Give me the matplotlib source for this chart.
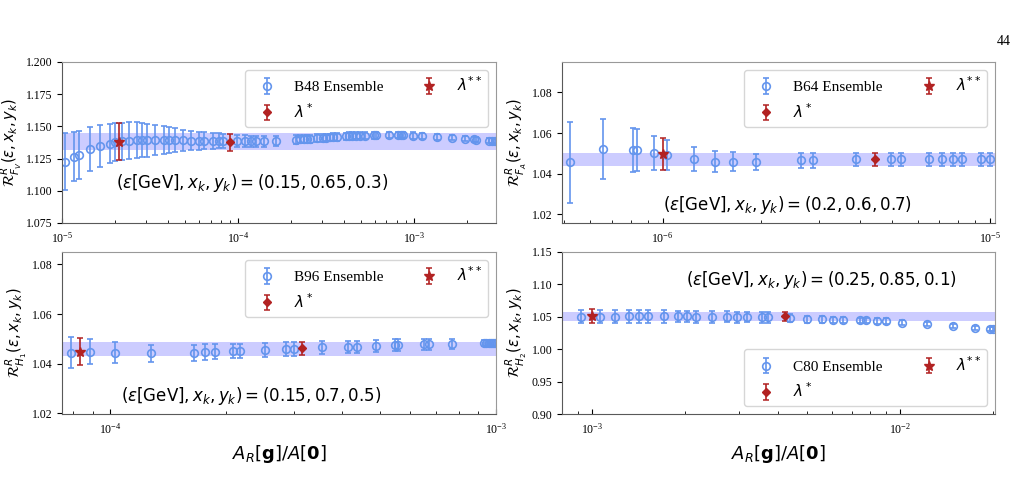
import numpy as np
import matplotlib
matplotlib.use("Agg")
from matplotlib import pyplot as plt

plt.rcParams['font.family'] = 'serif'
plt.rcParams['font.serif'] = ['Liberation Serif', 'DejaVu Serif']
plt.rcParams['mathtext.fontset'] = 'dejavusans'

# ---- B48 ensemble (F_V) ----
b48_x = [1.035e-5, 1.175e-5, 1.255e-5, 1.449e-5, 1.652e-5, 1.867e-5, 2.011e-5, 2.194e-5, 2.394e-5,
         2.670e-5, 2.851e-5, 3.044e-5, 3.395e-5, 3.786e-5, 4.043e-5, 4.374e-5, 4.878e-5, 5.416e-5,
         6.04e-5, 6.45e-5, 7.19e-5, 7.78e-5, 8.24e-5, 9.89e-5, 1.103e-4, 1.188e-4, 1.274e-4, 1.415e-4,
         1.656e-4, 2.151e-4, 2.247e-4, 2.368e-4, 2.474e-4, 2.562e-4, 2.82e-4, 3.05e-4, 3.186e-4,
         3.328e-4, 3.477e-4, 3.664e-4, 4.141e-4, 4.307e-4, 4.460e-4, 4.72e-4, 4.974e-4, 5.264e-4,
         5.923e-4, 6.134e-4, 7.21e-4, 8.11e-4, 8.47e-4, 8.66e-4, 9.91e-4, 1.115e-3, 1.358e-3,
         1.652e-3, 1.95e-3, 2.194e-3, 2.272e-3, 2.67e-3, 2.79e-3, 2.914e-3]
b48_y = [1.1227, 1.1265, 1.1278, 1.1322, 1.1348, 1.1366, 1.1376, 1.1384, 1.1389,
         1.1394, 1.1394, 1.1394, 1.1394, 1.1394, 1.1394, 1.1394, 1.1392, 1.1389,
         1.1389, 1.1389, 1.1387, 1.1387, 1.1387, 1.1384, 1.1384, 1.1384, 1.1384, 1.1384,
         1.1389, 1.1398, 1.1400, 1.1401, 1.1403, 1.1404, 1.1408, 1.1411, 1.1413,
         1.1414, 1.1416, 1.1418, 1.1422, 1.1424, 1.1425, 1.1427, 1.1428, 1.1429,
         1.1431, 1.1432, 1.1433, 1.1433, 1.1433, 1.1432, 1.1429, 1.1426, 1.1420,
         1.1413, 1.1405, 1.1400, 1.1398, 1.1389, 1.1387, 1.1386]
b48_err = [0.0219, 0.0190, 0.0188, 0.0170, 0.0160, 0.0152, 0.0148, 0.0145, 0.0143,
           0.0140, 0.0134, 0.0128, 0.0118, 0.0108, 0.0102, 0.0092, 0.0080, 0.0075,
           0.0070, 0.0066, 0.0062, 0.0058, 0.0055, 0.0048, 0.0047, 0.0045, 0.0043, 0.0041,
           0.0040, 0.0032, 0.0032, 0.0031, 0.0031, 0.0031, 0.0030, 0.0030, 0.0030,
           0.0030, 0.0029, 0.0029, 0.0029, 0.0029, 0.0028, 0.0028, 0.0028, 0.0028,
           0.0027, 0.0027, 0.0026, 0.0026, 0.0026, 0.0026, 0.0025, 0.0024, 0.0022,
           0.0021, 0.0020, 0.0020, 0.0020, 0.0019, 0.0019, 0.0019]
b48_star = (2.10e-5, 1.1381, 0.0142)
b48_diam = (9.07e-5, 1.1376, 0.0065)
b48_band = (1.1317, 1.1446)

# ---- B64 ensemble (F_A) ----
b64_x = [5.23e-7, 6.58e-7, 8.12e-7, 8.35e-7, 9.39e-7, 1.031e-6, 1.243e-6, 1.448e-6, 1.639e-6,
         1.931e-6, 2.65e-6, 2.876e-6, 3.90e-6, 4.99e-6, 5.34e-6, 6.51e-6, 7.11e-6, 7.69e-6,
         8.19e-6, 9.39e-6, 1.0e-5]
b64_y = [1.0455, 1.0522, 1.0516, 1.0516, 1.0501, 1.0491, 1.0470, 1.0458, 1.0458,
         1.0458, 1.0466, 1.0466, 1.0470, 1.0470, 1.0470, 1.0470, 1.0470, 1.0470,
         1.0470, 1.0470, 1.0470]
b64_err = [0.0199, 0.0148, 0.0107, 0.0104, 0.0084, 0.0074, 0.0059, 0.0052, 0.0047,
           0.0040, 0.0036, 0.0036, 0.0034, 0.0033, 0.0033, 0.0033, 0.0033, 0.0033,
           0.0033, 0.0033, 0.0033]
b64_star = (1.0e-6, 1.0496, 0.0079)
b64_diam = (4.435e-6, 1.0470, 0.0033)
b64_band = (1.0437, 1.0504)

# ---- B96 ensemble (H_1) ----
b96_x = [7.91e-5, 8.87e-5, 1.030e-4, 1.275e-4, 1.651e-4, 1.763e-4, 1.864e-4, 2.080e-4, 2.173e-4,
         2.512e-4, 2.854e-4, 2.988e-4, 3.54e-4, 4.125e-4, 4.376e-4, 4.895e-4, 5.46e-4, 5.57e-4,
         6.49e-4, 6.71e-4, 7.69e-4, 9.29e-4, 9.44e-4, 9.57e-4, 9.71e-4, 9.82e-4, 9.96e-4]
b96_y = [1.0444, 1.0448, 1.0444, 1.0442, 1.0444, 1.0447, 1.0448, 1.0451, 1.0451,
         1.0455, 1.0459, 1.0459, 1.0466, 1.0468, 1.0468, 1.0471, 1.0475, 1.0475,
         1.0478, 1.0478, 1.0480, 1.0484, 1.0484, 1.0484, 1.0484, 1.0484, 1.0484]
b96_err = [0.0062, 0.0050, 0.0042, 0.0034, 0.0032, 0.0031, 0.0030, 0.0029, 0.0029,
           0.0028, 0.0027, 0.0027, 0.0026, 0.0025, 0.0025, 0.0024, 0.0023, 0.0023,
           0.0022, 0.0022, 0.0021, 0.0012, 0.0012, 0.0012, 0.0012, 0.0012, 0.0012]
b96_star = (8.33e-5, 1.0448, 0.0054)
b96_diam = (3.14e-4, 1.0462, 0.0027)
b96_band = (1.0432, 1.0489)

# ---- C80 ensemble (H_2) ----
c80_x = [9.23e-4, 1.059e-3, 1.185e-3, 1.319e-3, 1.422e-3, 1.521e-3, 1.714e-3, 1.904e-3, 2.04e-3,
         2.183e-3, 2.455e-3, 2.733e-3, 2.944e-3, 3.175e-3, 3.55e-3, 3.73e-3, 4.39e-3, 4.97e-3,
         5.59e-3, 6.07e-3, 6.54e-3, 7.38e-3, 7.75e-3, 8.40e-3, 8.98e-3, 1.0125e-2, 1.221e-2,
         1.483e-2, 1.753e-2, 1.961e-2, 2.0e-2]
c80_y = [1.050, 1.050, 1.050, 1.0505, 1.0505, 1.0505, 1.0505, 1.0505, 1.0505,
         1.050, 1.050, 1.050, 1.0495, 1.0495, 1.049, 1.049, 1.048, 1.0464,
         1.0459, 1.0454, 1.0454, 1.0443, 1.0443, 1.0433, 1.0433, 1.0412, 1.0387,
         1.0356, 1.033, 1.0314, 1.0314]
c80_err = [0.0103, 0.0098, 0.0098, 0.0097, 0.0096, 0.0095, 0.0093, 0.0092, 0.0091,
           0.0090, 0.0088, 0.0086, 0.0084, 0.0082, 0.0080, 0.0078, 0.0060, 0.0052,
           0.0050, 0.0048, 0.0047, 0.0045, 0.0044, 0.0042, 0.0041, 0.0038, 0.0035,
           0.0032, 0.0030, 0.0028, 0.0028]
c80_star = (1.0e-3, 1.0515, 0.011)
c80_diam = (4.23e-3, 1.0505, 0.007)
c80_band = (1.0433, 1.0572)

blue = '#6495ED'
red = '#B22222'

fig = plt.figure(figsize=(10.23, 4.86), dpi=100)

def panel(rect, x, y, err, star, diam, band, name, ylabel, xlim, ylim, yticks, yfmt,
          note, note_xy, leg_loc, xlabel=None):
    ax = fig.add_axes(rect)
    ax.axhspan(band[0], band[1], color='b', alpha=0.2, lw=0)
    h1 = ax.errorbar(x, y, yerr=err, fmt='o', mfc='none', mec=blue, ecolor=blue, ms=5.5,
                     mew=1.2, elinewidth=1.2, capsize=2.5, capthick=1.1, label=name + ' Ensemble')
    h3 = ax.errorbar([star[0]], [star[1]], yerr=[star[2]], fmt='*', color=red, ms=7,
                     elinewidth=1.2, capsize=2.5, capthick=1.1, label=r'$\lambda^{**}$')
    h2 = ax.errorbar([diam[0]], [diam[1]], yerr=[diam[2]], fmt='D', color=red, ms=4.5,
                     elinewidth=1.2, capsize=2.5, capthick=1.1, label=r'$\lambda^*$')
    ax.set_xscale('log')
    ax.set_xlim(*xlim)
    ax.set_ylim(*ylim)
    ax.set_yticks(yticks)
    ax.set_yticklabels([yfmt.format(t) for t in yticks])
    ax.tick_params(axis='x', which='both', direction='in', labelsize=8.5, pad=6)
    ax.tick_params(axis='y', labelsize=8.5)
    for s in ['top', 'right']:
        ax.spines[s].set_color('0.6')
    for s in ['left', 'bottom']:
        ax.spines[s].set_color('0.35')
    ax.set_ylabel(ylabel, fontsize=10.5, family='DejaVu Sans', labelpad=1.5)
    ax.text(note_xy[0], note_xy[1], note, transform=ax.transAxes, ha='center', va='center',
            fontsize=12)
    ax.legend([h1, h2, h3], [h1.get_label(), h2.get_label(), h3.get_label()], ncol=2,
              loc=leg_loc, fontsize=11)
    if xlabel:
        ax.set_xlabel(xlabel, fontsize=13)
    return ax

xlab = r'$A_R[\mathbf{g}]/A[\mathbf{0}]$'

panel([0.0606, 0.5412, 0.4242, 0.3313], b48_x, b48_y, b48_err, b48_star, b48_diam, b48_band,
      'B48', r'$\mathcal{R}^R_{F_V}(\epsilon, x_k, y_k)$', (1e-5, 2.94e-3), (1.075, 1.200),
      [1.075, 1.100, 1.125, 1.150, 1.175, 1.200], '{:.3f}',
      r'$(\epsilon[\mathrm{GeV}], x_k, y_k) = (0.15, 0.65, 0.3)$', (0.438, 0.25), 'upper right')

panel([0.5494, 0.5412, 0.4233, 0.3313], b64_x, b64_y, b64_err, b64_star, b64_diam, b64_band,
      'B64', r'$\mathcal{R}^R_{F_A}(\epsilon, x_k, y_k)$', (4.93e-7, 1.035e-5), (1.0157, 1.095),
      [1.02, 1.04, 1.06, 1.08], '{:.2f}',
      r'$(\epsilon[\mathrm{GeV}], x_k, y_k) = (0.2, 0.6, 0.7)$', (0.52, 0.11), 'upper right')

panel([0.0606, 0.1481, 0.4242, 0.3334], b96_x, b96_y, b96_err, b96_star, b96_diam, b96_band,
      'B96', r'$\mathcal{R}^R_{H_1}(\epsilon, x_k, y_k)$', (7.5e-5, 1e-3), (1.0197, 1.085),
      [1.02, 1.04, 1.06, 1.08], '{:.2f}',
      r'$(\epsilon[\mathrm{GeV}], x_k, y_k) = (0.15, 0.7, 0.5)$', (0.437, 0.11), 'upper right',
      xlabel=xlab)

panel([0.5494, 0.1481, 0.4233, 0.3334], c80_x, c80_y, c80_err, c80_star, c80_diam, c80_band,
      'C80', r'$\mathcal{R}^R_{H_2}(\epsilon, x_k, y_k)$', (8e-4, 2.03e-2), (0.90, 1.15),
      [0.90, 0.95, 1.00, 1.05, 1.10, 1.15], '{:.2f}',
      r'$(\epsilon[\mathrm{GeV}], x_k, y_k) = (0.25, 0.85, 0.1)$', (0.6, 0.826), 'lower right',
      xlabel=xlab)

fig.text(0.988, 0.914, '44', ha='right', va='center', fontsize=10)

fig.savefig('out.png', dpi=100)
